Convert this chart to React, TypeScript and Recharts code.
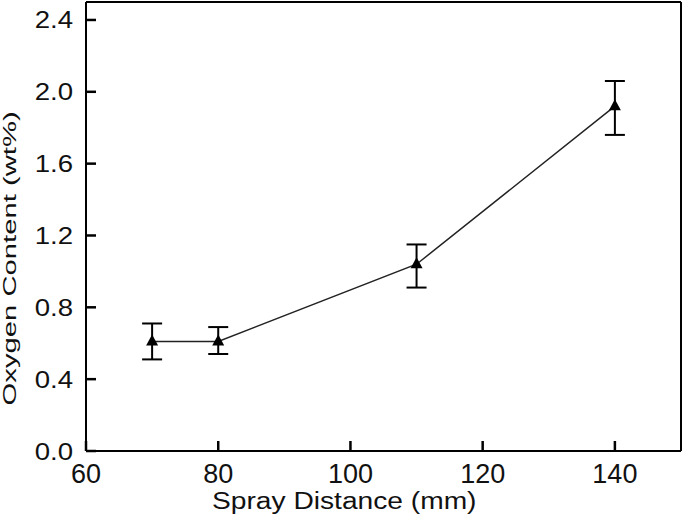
import { ComposedChart, Line, XAxis, YAxis, ErrorBar, ReferenceLine } from 'recharts';

const sprayDistance = [70, 80, 110, 140];
const oxygenContent = [0.61, 0.61, 1.04, 1.92];
const errLow = [0.1, 0.07, 0.13, 0.16];
const errHigh = [0.1, 0.08, 0.11, 0.14];

const xTicks = [60, 80, 100, 120, 140];
const yTicks = [0, 0.4, 0.8, 1.2, 1.6, 2.0, 2.4];

const data = sprayDistance.map((d, i) => ({
  d,
  o: oxygenContent[i],
  err: [errLow[i], errHigh[i]],
}));

const font = '"Liberation Sans", Arial, sans-serif';
const ink = '#111';

// stretched text, the source figure is a bit wider than its fonts
const Stretch = ({ x, y, sx = 1, rotate = 0, size, anchor = 'middle', children }: any) => (
  <g transform={`translate(${x},${y}) rotate(${rotate}) scale(${sx},1)`}>
    <text x={0} y={0} textAnchor={anchor} fontSize={size} fontFamily={font} fill={ink}>
      {children}
    </text>
  </g>
);

// inward ticks drawn by hand
const XTick = (props: any) => {
  const { x, y, payload } = props;
  return (
    <g>
      <path d={`M${x},${y} V${y - 10}`} stroke="#000" strokeWidth={2.5} />
      <Stretch x={x} y={y + 32} size={27}>{payload.value}</Stretch>
    </g>
  );
};

const YTick = (props: any) => {
  const { x, y, payload } = props;
  return (
    <g>
      <path d={`M${x},${y} H${x + 10}`} stroke="#000" strokeWidth={2.5} />
      <Stretch x={x - 13} y={y + 8.5} size={24} sx={1.15} anchor="end">{Number(payload.value).toFixed(1)}</Stretch>
    </g>
  );
};

const XTitle = (props: any) => {
  const { viewBox } = props;
  return (
    <Stretch x={viewBox.x + viewBox.width * 0.434} y={509} size={24.5} sx={1.15}>
      Spray Distance (mm)
    </Stretch>
  );
};

const YTitle = (props: any) => {
  const { viewBox } = props;
  return (
    <Stretch x={15.5} y={viewBox.y + viewBox.height * 0.571} size={19} sx={1.54} rotate={-90}>
      Oxygen Content (wt%)
    </Stretch>
  );
};

const Triangle = (props: any) => {
  const { cx, cy } = props;
  if (cx == null || cy == null) return null;
  return <path d={`M${cx},${cy - 7} L${cx + 6},${cy + 4} L${cx - 6},${cy + 4} Z`} fill="#000" />;
};

export default function App() {
  return (
    <div style={{ position: 'absolute', left: 0, top: 0, background: '#fff' }}>
      <ComposedChart width={685} height={518} data={data} margin={{ top: 2, right: 4, left: 0, bottom: 0 }}>
        <XAxis
          dataKey="d"
          type="number"
          domain={[60, 150]}
          ticks={xTicks}
          interval={0}
          height={67}
          tickSize={0}
          tickMargin={0}
          tickLine={false}
          axisLine={{ stroke: '#000', strokeWidth: 2 }}
          tick={<XTick />}
          label={<XTitle />}
        />
        <YAxis
          type="number"
          domain={[0, 2.5]}
          ticks={yTicks}
          interval={0}
          width={86}
          tickSize={0}
          tickMargin={0}
          tickLine={false}
          axisLine={{ stroke: '#000', strokeWidth: 2 }}
          tick={<YTick />}
          label={<YTitle />}
        />
        <ReferenceLine y={2.5} stroke="#000" strokeWidth={2} />
        <ReferenceLine x={150} stroke="#000" strokeWidth={2} />
        <Line
          dataKey="o"
          stroke="#222"
          strokeWidth={1.5}
          dot={<Triangle />}
          activeDot={false}
          isAnimationActive={false}
        >
          <ErrorBar dataKey="err" width={10} stroke="#000" strokeWidth={2} isAnimationActive={false} />
        </Line>
      </ComposedChart>
    </div>
  );
}
